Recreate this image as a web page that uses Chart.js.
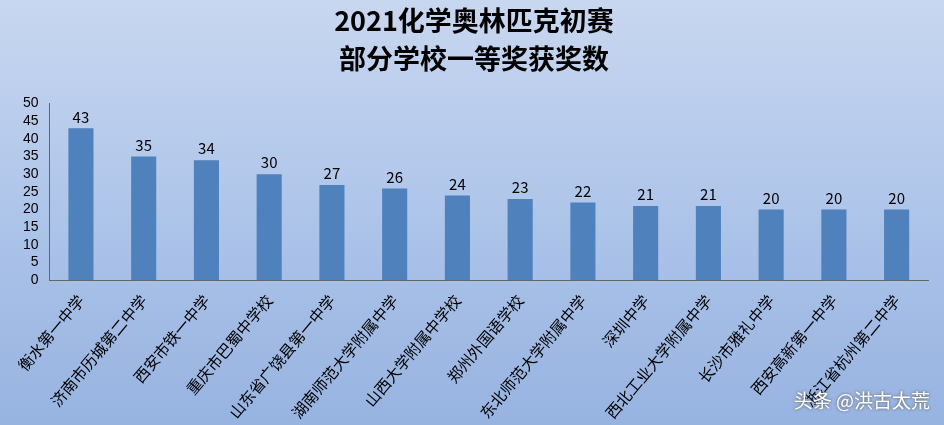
<!DOCTYPE html>
<html><head><meta charset="utf-8">
<script src="https://cdn.jsdelivr.net/npm/chart.js@4"></script>
<style>
html,body{margin:0;padding:0;}
body{width:944px;height:425px;background:linear-gradient(#c8d7f0,#a9c1e8 60%,#97b3e0);position:relative;overflow:hidden;font-family:"Noto Sans CJK SC";}
#wrap{position:absolute;left:0;top:0;width:944px;height:425px;}
#wm{position:absolute;right:14px;bottom:12px;color:#fff;font-size:19px;font-family:"Noto Sans CJK SC";text-shadow:0 0 3px #555;}
</style></head><body>
<div id="wrap"><canvas id="c" width="944" height="425"></canvas></div>
<div id="wm">头条 @洪古太荒</div>
<script>
const categories=["衡水第一中学","济南市历城第二中学","西安市铁一中学","重庆市巴蜀中学校","山东省广饶县第一中学","湖南师范大学附属中学","山西大学附属中学校","郑州外国语学校","东北师范大学附属中学","深圳中学","西北工业大学附属中学","长沙市雅礼中学","西安高新第一中学","浙江省杭州第二中学"];
const values=[43,35,34,30,27,26,24,23,22,21,21,20,20,20];
const titleLines=["2021化学奥林匹克初赛","部分学校一等奖获奖数"];
const labelPlugin={id:"vl",afterDatasetsDraw(ch){const ctx=ch.ctx;const m=ch.getDatasetMeta(0);ctx.save();ctx.font="15px 'Noto Sans CJK SC'";ctx.fillStyle="#000";ctx.textAlign="center";ctx.textBaseline="bottom";m.data.forEach((b,i)=>ctx.fillText(values[i],b.x,b.y-4));ctx.restore();}};
new Chart(document.getElementById("c"),{type:"bar",
data:{labels:categories,datasets:[{data:values,backgroundColor:"#4f81bd",categoryPercentage:0.8,barPercentage:0.5}]},
options:{responsive:false,animation:false,layout:{padding:{left:20,right:16,top:0,bottom:0}},
plugins:{legend:{display:false},tooltip:{enabled:false},
title:{display:true,text:titleLines,color:"#000",font:{size:27,weight:"bold",family:"'Noto Sans CJK SC'",lineHeight:1.4},padding:{top:2,bottom:26}}},
scales:{y:{min:0,max:50,ticks:{stepSize:5,autoSkip:false,color:"#000",font:{size:14,family:"'Liberation Sans'"}},grid:{display:false},border:{color:"#666"}},
x:{ticks:{color:"#000",minRotation:50,maxRotation:50,autoSkip:false,font:{size:15.5,family:"'Noto Sans CJK SC'"}},grid:{display:false},border:{color:"#666"}}}}
,plugins:[labelPlugin]});
</script></body></html>
